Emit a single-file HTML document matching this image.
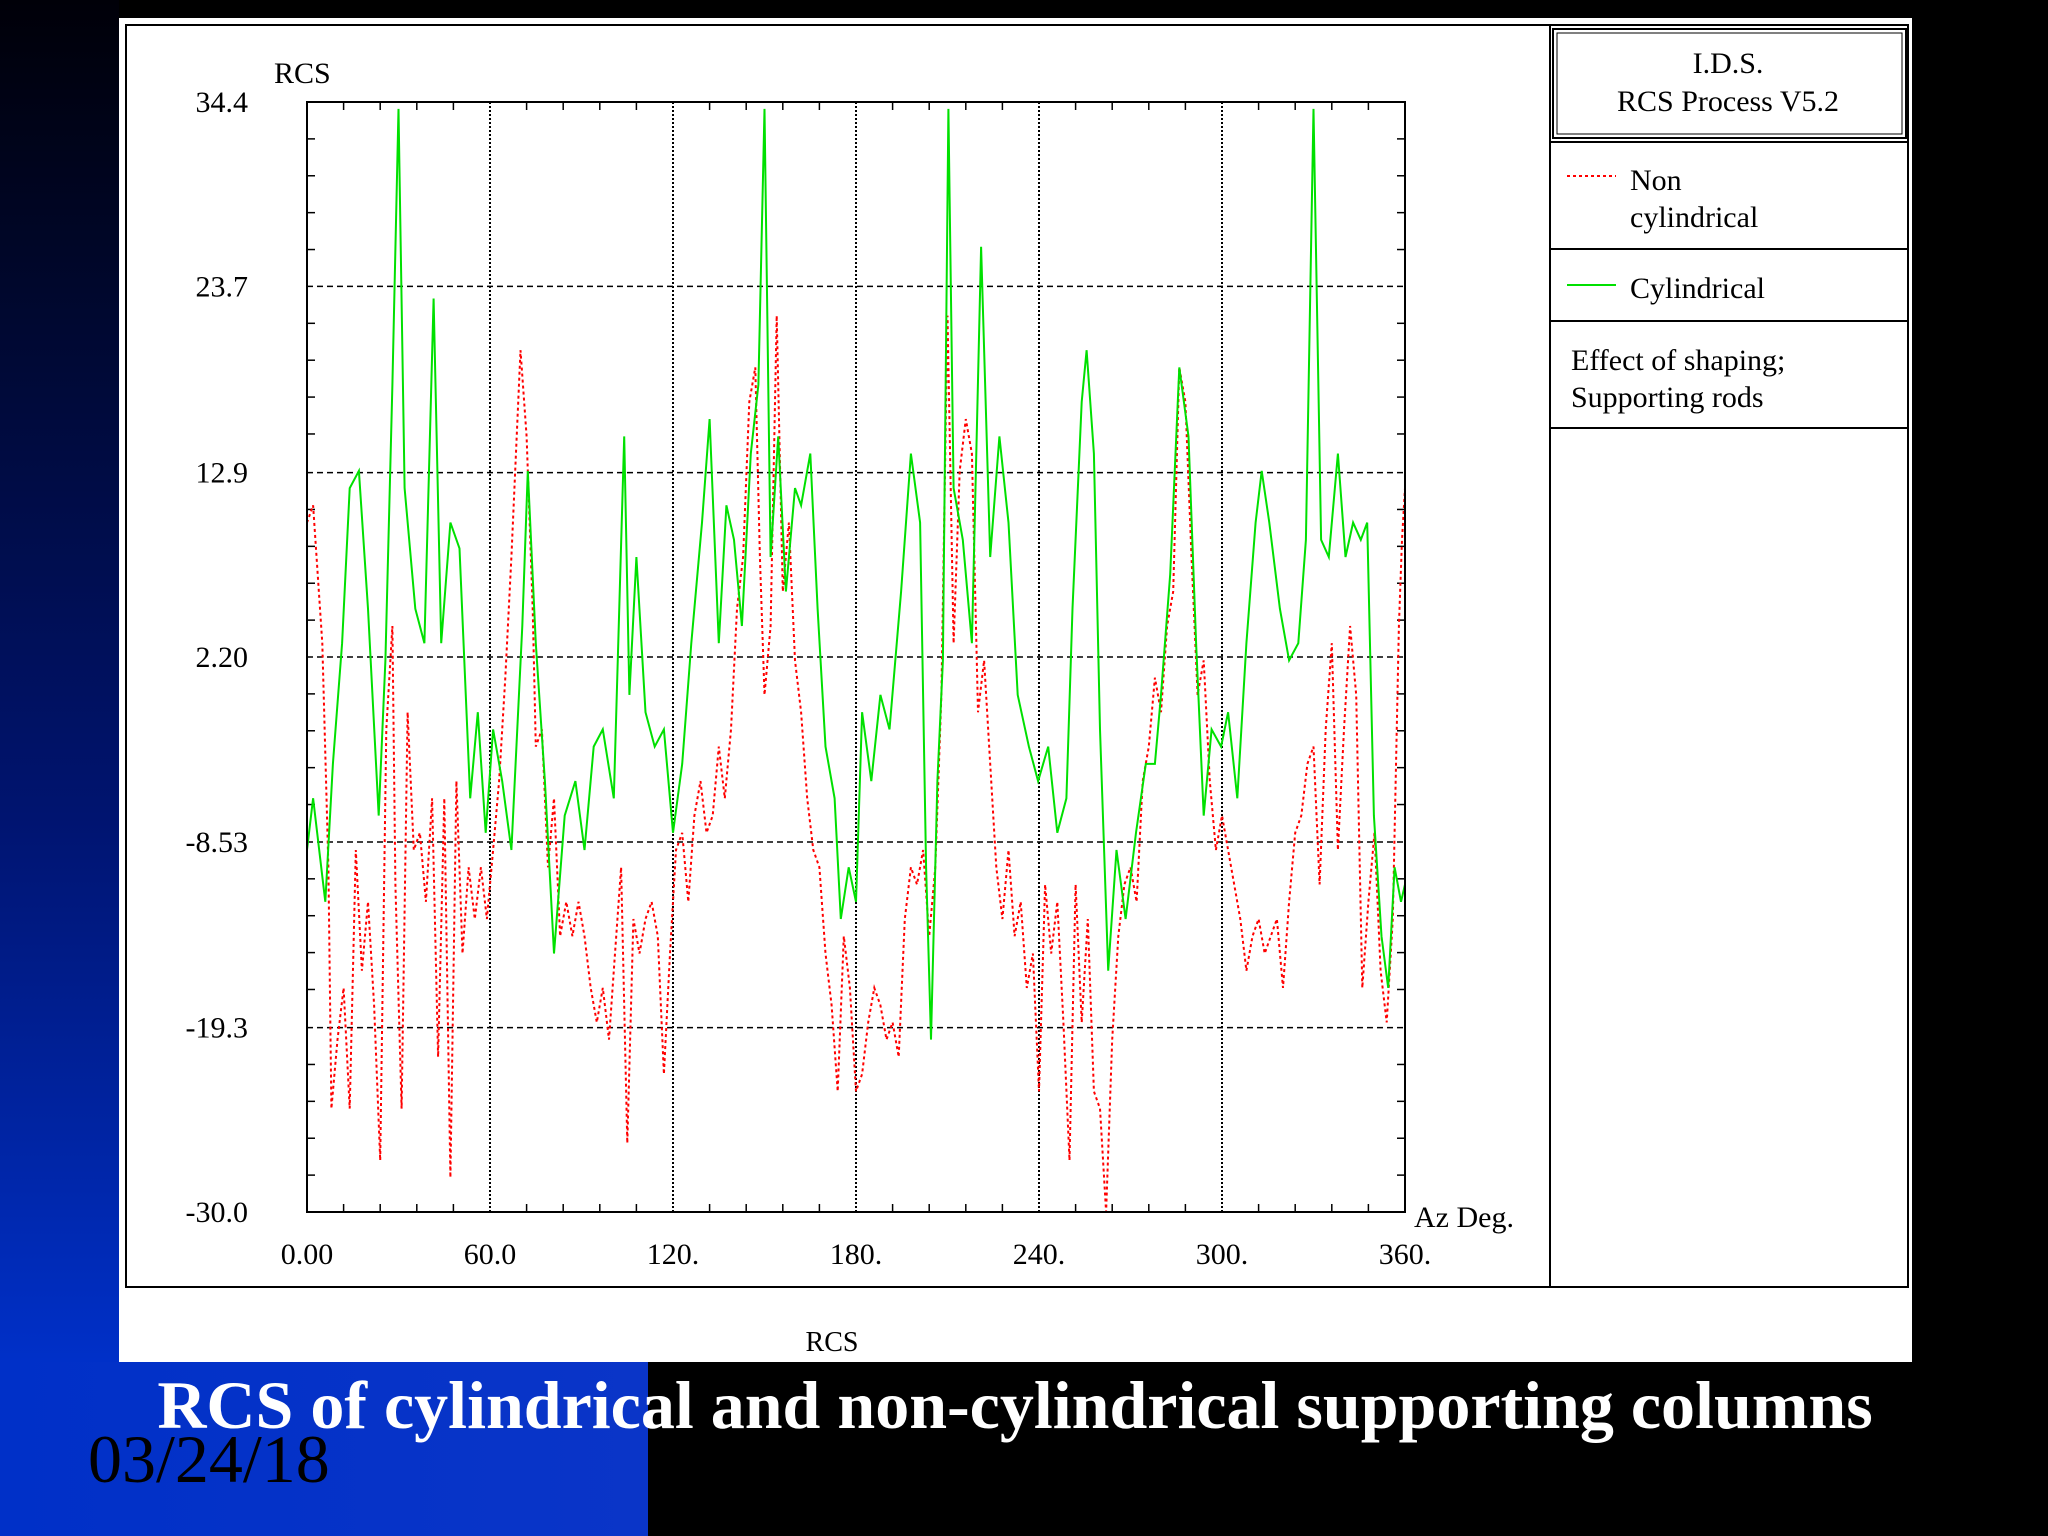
<!DOCTYPE html>
<html><head><meta charset="utf-8"><style>
html,body{margin:0;padding:0;width:2048px;height:1536px;overflow:hidden;background:#000;}
svg{display:block;}
</style></head><body>
<svg id="chart" width="2048" height="1536" viewBox="0 0 2048 1536" xmlns="http://www.w3.org/2000/svg">
<defs>
<linearGradient id="lg" x1="0" y1="0" x2="0" y2="1"><stop offset="0" stop-color="#000008"/><stop offset="0.6" stop-color="#001470"/><stop offset="1" stop-color="#0030c8"/></linearGradient>
<linearGradient id="bg2" x1="0" y1="0" x2="1" y2="0"><stop offset="0" stop-color="#0030c8"/><stop offset="1" stop-color="#0a35c8"/></linearGradient>
</defs>
<rect x="0" y="0" width="2048" height="1536" fill="#000"/>
<rect x="0" y="0" width="119" height="1362" fill="url(#lg)"/>
<rect x="0" y="1362" width="648" height="174" fill="url(#bg2)"/>
<rect x="119" y="18" width="1793" height="1344" fill="#fff"/>
<rect x="126" y="25" width="1782" height="1262" fill="none" stroke="#000" stroke-width="2"/>
<line x1="1550" y1="25" x2="1550" y2="1287" stroke="#000" stroke-width="2"/>
<rect x="1553" y="29" width="353" height="109" fill="none" stroke="#000" stroke-width="2"/>
<rect x="1557" y="33" width="345" height="101" fill="none" stroke="#000" stroke-width="1"/>
<g font-family="Liberation Serif, serif" font-size="30" fill="#000">
<text x="1728" y="73" text-anchor="middle">I.D.S.</text>
<text x="1728" y="111" text-anchor="middle">RCS Process V5.2</text>
<line x1="1550" y1="142" x2="1908" y2="142" stroke="#000" stroke-width="2"/>
<line x1="1550" y1="249" x2="1908" y2="249" stroke="#000" stroke-width="2"/>
<line x1="1550" y1="321" x2="1908" y2="321" stroke="#000" stroke-width="2"/>
<line x1="1550" y1="428" x2="1908" y2="428" stroke="#000" stroke-width="2"/>
<g>
<line x1="1567" y1="176" x2="1616" y2="176" stroke="#ff0000" stroke-width="2" stroke-dasharray="3,3"/>
<text x="1630" y="190">Non</text><text x="1630" y="227">cylindrical</text></g>
<g>
<line x1="1567" y1="285" x2="1616" y2="285" stroke="#00e000" stroke-width="2"/>
<text x="1630" y="298">Cylindrical</text></g>
<text x="1571" y="370">Effect of shaping;</text>
<text x="1571" y="407">Supporting rods</text>
<text x="274" y="83">RCS</text>
<text x="1414" y="1227">Az Deg.</text>
<text x="832" y="1351" text-anchor="middle" font-size="28">RCS</text>
</g>
<g id="grid"></g><g id="ticks"></g><g id="labels" font-family="Liberation Serif, serif" font-size="30" fill="#000"></g>
<g id="series"></g>
<rect x="307" y="102" width="1098" height="1110" fill="none" stroke="#000" stroke-width="2"/>
<text x="1015" y="1428" text-anchor="middle" font-family="Liberation Serif, serif" font-weight="bold" font-size="68" fill="#fff">RCS of cylindrical and non-cylindrical supporting columns</text>
<text x="88" y="1482" font-family="Liberation Serif, serif" font-size="68" fill="#000">03/24/18</text>
</svg>
<script>
const greenDeg=[0,2,6,8.5,11.5,14,17,20,23.5,25.7,28,30,32,35.5,38.5,41.5,44,47,50,53.5,56,58.6,61,64,67,70.6,72.4,75,78,81,84.5,88,91,94,97,100.6,104,105.7,108,111,114,117,120,123,126,129.5,132,135,137.5,140,142.6,145.5,148,150,152,154.5,157,160,162,165,167.4,170,173,175,177.6,180,182,185,188,191,194.8,198,201,203,204.6,206.7,208.5,210.3,212,215,218,221,224,227,230,233,236.7,239.7,243,246,249,251,254,255.6,258,260,262.7,265.4,268.4,271.8,275,278,280,283,286,289,291.5,294,296.6,299.7,302,305,308,311,313,315.5,319,322,325,327.5,330,332.5,335,338,340.5,343,345.5,347.6,349.8,352.3,354.5,356.6,358.7,360];
const greenVal=[-9,-6,-12,-4,3,12,13,5,-7,2,18,34,12,5,3,23,3,10,8.5,-6,-1,-8,-2,-5,-9,4,13,3,-5,-15,-7,-5,-9,-3,-2,-6,15,0,8,-1,-3,-2,-8,-4,3,10,16,3,11,9,4,14,18,34,8,15,6,12,11,14,5,-3,-6,-13,-10,-12,-1,-5,0,-2,6,14,10,-10,-20,-5,2,34,12,9,3,26,8,15,10,0,-3,-5,-3,-8,-6,5,17,20,14,-2,-16,-9,-13,-8,-4,-4,0,7,19,15,3,-7,-2,-3,-1,-6,3,10,13,10,5,2,3,9,34,9,8,14,8,10,9,10,-7,-14,-17,-10,-12,-11];
const redDeg=[0,2,5,7,8,10,12,14,16,18,20,22,24,26,28,29,31,33,35,37,39,41,43,45,47,49,51,53,55,57,59,61,63,65,67,70,72,74,75,77,79,81,83,85,87,89,91,93,95,97,99,101,103,105,107,109,111,113,115,117,119,121,123,125,127,129,131,133,135,137,139,141,143,145,147,148.5,150,152,154,156,158,160,162,164,166,168,170,172,174,176,178,180,182,184,186,188,190,192,194,196,198,200,202,204,206,208,210,212,214,216,218,220,222,224,226,228,230,232,234,236,238,240,242,244,246,248,250,252,254,256,258,260,262,264,266,268,270,272,274,276,278,280,282,284,286,288,290,292,294,296,298,300,302,304,306,308,310,312,314,316,318,320,322,324,326,328,330,332,334,336,338,340,342,344,346,348,350,352,354,356,358,359,360];
const redVal=[10,11,3,-10,-24,-20,-17,-24,-9,-16,-12,-18,-27,-2,4,-11,-24,-1,-9,-8,-12,-6,-21,-6,-28,-5,-15,-10,-13,-10,-13,-9,-5,1,8,20,15,5,-3,-2,-10,-6,-14,-12,-14,-12,-14,-17,-19,-17,-20,-15,-10,-26,-13,-15,-13,-12,-14,-22,-15,-9,-8,-12,-7,-5,-8,-7,-3,-6,-2,5,8,17,19,8,0,4,22,6,10,2,-1,-6,-9,-10,-15,-18,-23,-14,-17,-23,-22,-19,-17,-18,-20,-19,-21,-13,-10,-11,-9,-14,-10,0,22,3,13,16,14,-1,2,-4,-10,-13,-9,-14,-12,-17,-15,-23,-11,-15,-12,-19,-27,-11,-19,-13,-23,-24,-30,-20,-14,-11,-10,-12,-5,-3,1,-1,4,6,19,17,8,0,2,-5,-9,-7,-9,-11,-13,-16,-14,-13,-15,-14,-13,-17,-12,-8,-7,-4,-3,-11,-2,3,-9,-2,4,0,-17,-12,-8,-16,-19,-13,4,9,12];
const yTicks=[34.4,23.7,12.9,2.20,-8.53,-19.3,-30.0];
const yTickLabels=["34.4","23.7","12.9","2.20","-8.53","-19.3","-30.0"];
const xTicks=[0,60,120,180,240,300,360];
const xTickLabels=["0.00","60.0","120.","180.","240.","300.","360."];
const X0=307,X1=1405,Y0=1212,Y1=102,VMIN=-30,VMAX=34.4;
const xs=d=>X0+(d/360)*(X1-X0);
const ys=v=>Y0-(v-VMIN)/(VMAX-VMIN)*(Y0-Y1);
const NS='http://www.w3.org/2000/svg';
function mk(tag,attrs,parent){const e=document.createElementNS(NS,tag);for(const k in attrs)e.setAttribute(k,attrs[k]);parent.appendChild(e);return e;}
const grid=document.getElementById('grid'),ticks=document.getElementById('ticks'),labels=document.getElementById('labels'),series=document.getElementById('series');
yTicks.forEach((v,i)=>{
 if(i>0&&i<yTicks.length-1){const g=mk('line',{x1:X0,x2:X1,y1:ys(v),y2:ys(v),stroke:'#000','stroke-width':1.5,'stroke-dasharray':'6,4'},grid);
 
 }
 const t=mk('text',{x:248,y:ys(v)+10,'text-anchor':'end'},labels);t.textContent=yTickLabels[i];
 
 
 if(i<yTicks.length-1){for(let k=1;k<5;k++){const vv=v-(yTicks[0]-yTicks[1])*k/5;
  const a=mk('line',{x1:X0,x2:X0+8,y1:ys(vv),y2:ys(vv),stroke:'#000','stroke-width':1.5},ticks);
  
  
  const b=mk('line',{x1:X1-8,x2:X1,y1:ys(vv),y2:ys(vv),stroke:'#000','stroke-width':1.5},ticks);
  
  }}
});
xTicks.forEach((d,i)=>{
 if(i>0&&i<xTicks.length-1){const g=mk('line',{x1:xs(d),x2:xs(d),y1:Y1,y2:Y0,stroke:'#000','stroke-width':2,'stroke-dasharray':'2,2'},grid);
 
 }
 const t=mk('text',{x:xs(d),y:1264,'text-anchor':'middle'},labels);t.textContent=xTickLabels[i];
 
 
 if(i<xTicks.length-1){for(let k=1;k<5;k++){const dd=d+12*k;
  const a=mk('line',{x1:xs(dd),x2:xs(dd),y1:Y1,y2:Y1+8,stroke:'#000','stroke-width':1.5},ticks);
  
  
  const b=mk('line',{x1:xs(dd),x2:xs(dd),y1:Y0-8,y2:Y0,stroke:'#000','stroke-width':1.5},ticks);
  
  }}
});
function pts(D,V){return D.map((d,i)=>xs(d).toFixed(1)+','+ys(Math.max(VMIN,Math.min(VMAX,V[i]))).toFixed(1)).join(' ');}
const r=mk('polyline',{points:pts(redDeg,redVal),fill:'none',stroke:'#ff0000','stroke-width':2,'stroke-dasharray':'3,3'},series);


const g=mk('polyline',{points:pts(greenDeg,greenVal),fill:'none',stroke:'#00e000','stroke-width':2},series);


</script>
</body></html>
